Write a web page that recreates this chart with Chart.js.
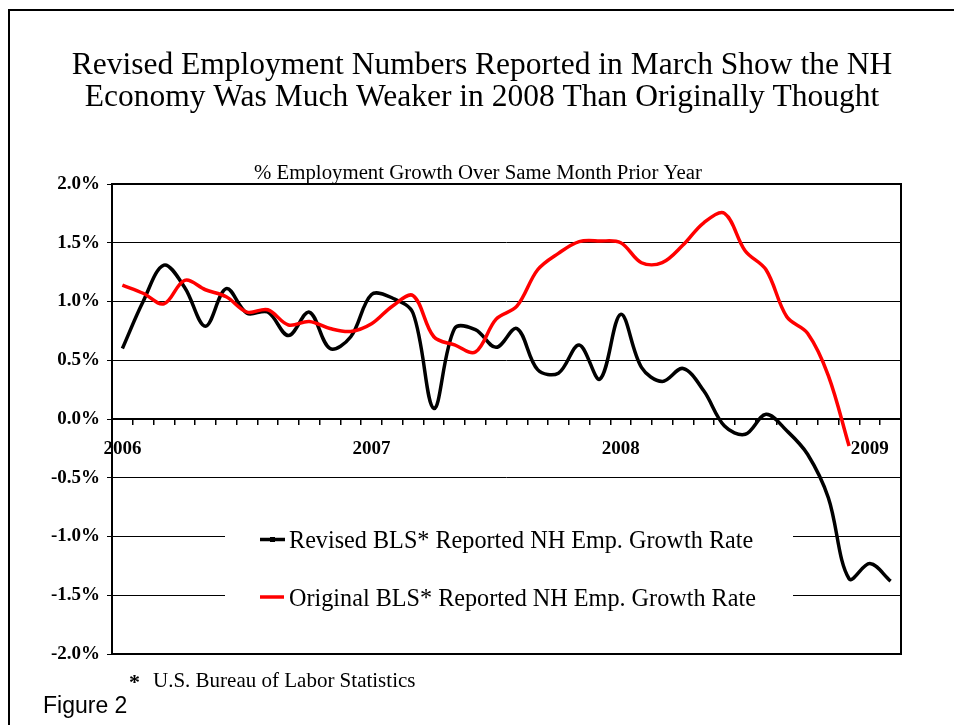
<!DOCTYPE html>
<html>
<head>
<meta charset="utf-8">
<title>NH Employment Growth</title>
<script src="https://cdn.jsdelivr.net/npm/chart.js@4.4.1/dist/chart.umd.min.js"></script>
<style>
  html, body { margin: 0; padding: 0; background: #fff; }
  #wrap { width: 954px; height: 725px; }
</style>
</head>
<body>
<div id="wrap"><canvas id="empChart" width="954" height="725"></canvas></div>
<script>
var months = [
  "Jan 2006","Feb 2006","Mar 2006","Apr 2006","May 2006","Jun 2006","Jul 2006","Aug 2006","Sep 2006","Oct 2006","Nov 2006","Dec 2006",
  "Jan 2007","Feb 2007","Mar 2007","Apr 2007","May 2007","Jun 2007","Jul 2007","Aug 2007","Sep 2007","Oct 2007","Nov 2007","Dec 2007",
  "Jan 2008","Feb 2008","Mar 2008","Apr 2008","May 2008","Jun 2008","Jul 2008","Aug 2008","Sep 2008","Oct 2008","Nov 2008","Dec 2008",
  "Jan 2009","Feb 2009"
];
var yearLabels = ["2006","2007","2008","2009"];

// % growth over same month prior year
var revised = [0.60, 1.00, 1.31, 1.12, 0.79, 1.11, 0.90, 0.91, 0.71, 0.91, 0.60, 0.70,
               1.06, 1.03, 0.90, 0.09, 0.77, 0.76, 0.61, 0.77, 0.42, 0.39, 0.63, 0.34,
               0.89, 0.44, 0.32, 0.43, 0.24, -0.06, -0.13, 0.04, -0.10, -0.30, -0.67, -1.36,
               -1.23, -1.38];
var original = [1.14, 1.07, 0.98, 1.18, 1.10, 1.04, 0.91, 0.93, 0.80, 0.83, 0.77, 0.745,
                0.81, 0.96, 1.05, 0.70, 0.63, 0.57, 0.85, 0.96, 1.27, 1.41, 1.51, 1.515,
                1.50, 1.33, 1.33, 1.48, 1.67, 1.75, 1.43, 1.27, 0.87, 0.73, 0.37, -0.23];

var serif = "'Liberation Serif', 'Times New Roman', serif";

// frame, titles, legend and footnote drawn straight onto the canvas
var decorations = {
  id: "decorations",
  beforeDatasetsDraw: function(chart) {
    var ctx = chart.ctx, a = chart.chartArea;
    ctx.save();
    ctx.strokeStyle = "#000";
    ctx.lineWidth = 2;
    ctx.strokeRect(a.left, a.top, a.right - a.left, a.bottom - a.top);
    ctx.restore();
  },
  afterDraw: function(chart) {
    var ctx = chart.ctx;
    ctx.save();

    // outer border
    ctx.strokeStyle = "#000";
    ctx.lineWidth = 2;
    ctx.beginPath();
    ctx.moveTo(9, 725);
    ctx.lineTo(9, 10);
    ctx.lineTo(954, 10);
    ctx.stroke();

    ctx.fillStyle = "#000";
    ctx.textAlign = "center";
    ctx.textBaseline = "alphabetic";
    ctx.font = "31.5px " + serif;
    ctx.fillText("Revised Employment Numbers Reported in March Show the NH", 482, 74);
    ctx.fillText("Economy Was Much Weaker in 2008 Than Originally Thought", 482, 106);

    ctx.font = "20.8px " + serif;
    ctx.fillText("% Employment Growth Over Same Month Prior Year", 478, 179);

    // legend
    ctx.fillStyle = "#fff";
    ctx.fillRect(225, 508, 568, 115);
    ctx.lineCap = "butt";
    ctx.lineWidth = 3.5;
    ctx.strokeStyle = "#000";
    ctx.beginPath();
    ctx.moveTo(260, 539.5);
    ctx.lineTo(285, 539.5);
    ctx.stroke();
    ctx.fillStyle = "#000";
    ctx.fillRect(270, 537, 5, 5);
    ctx.strokeStyle = "#ff0000";
    ctx.beginPath();
    ctx.moveTo(260, 597);
    ctx.lineTo(284, 597);
    ctx.stroke();

    ctx.fillStyle = "#000";
    ctx.textAlign = "left";
    ctx.font = "24.2px " + serif;
    ctx.fillText("Revised BLS* Reported NH Emp. Growth Rate", 289, 548);
    ctx.fillText("Original BLS* Reported NH Emp. Growth Rate", 289, 606);

    // footnote
    ctx.font = "bold 22px " + serif;
    ctx.fillText("*", 129, 689);
    ctx.font = "21px " + serif;
    ctx.fillText("U.S. Bureau of Labor Statistics", 153, 687);
    ctx.font = "23px 'Liberation Sans', Arial, sans-serif";
    ctx.fillText("Figure 2", 43, 713);

    ctx.restore();
  }
};

new Chart("empChart", {
  type: "line",
  data: {
    labels: months,
    datasets: [{
      label: "Revised BLS* Reported NH Emp. Growth Rate",
      data: revised,
      borderColor: "#000",
      borderWidth: 3.5,
      pointRadius: 0,
      tension: 0.35,
      fill: false,
      order: 1
    }, {
      label: "Original BLS* Reported NH Emp. Growth Rate",
      data: original,
      borderColor: "#ff0000",
      borderWidth: 3.5,
      pointRadius: 0,
      tension: 0.35,
      fill: false,
      order: 0
    }]
  },
  options: {
    responsive: false,
    animation: false,
    layout: { padding: { top: 184, right: 53, bottom: 71, left: 0 } },
    plugins: {
      legend: { display: false },
      title: { display: false },
      tooltip: { enabled: false }
    },
    scales: {
      x: {
        type: "category",
        position: { y: 0 },
        offset: true,
        grid: {
          offset: true,
          drawOnChartArea: false,
          drawTicks: true,
          tickLength: 5,
          color: "#000",
          lineWidth: 1.5
        },
        border: { display: true, color: "#000", width: 2 },
        ticks: {
          autoSkip: false,
          maxRotation: 0,
          padding: 14,
          color: "#000",
          font: { family: serif, size: 19, weight: "bold" },
          callback: function(val, idx) {
            return idx % 12 === 0 ? yearLabels[idx / 12] : "";
          }
        }
      },
      y: {
        min: -2,
        max: 2,
        afterFit: function(scale) { scale.width = 112; },
        grid: {
          color: "#000",
          lineWidth: 1,
          tickLength: 5
        },
        border: { display: false },
        ticks: {
          stepSize: 0.5,
          padding: 7,
          color: "#000",
          font: { family: serif, size: 19, weight: "bold" },
          callback: function(v) { return v.toFixed(1) + "%"; }
        }
      }
    }
  },
  plugins: [decorations]
});
</script>
</body>
</html>
